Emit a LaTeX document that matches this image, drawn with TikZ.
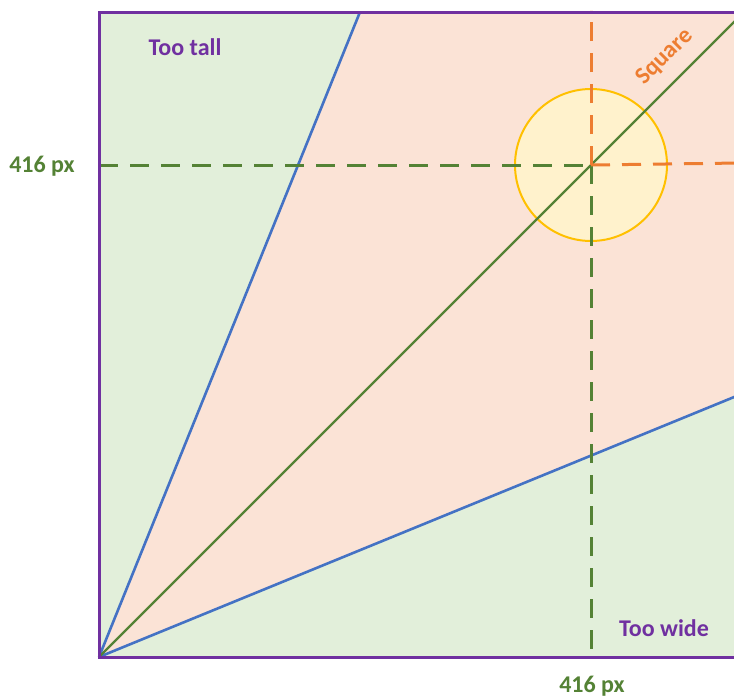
\documentclass[tikz,border=0pt]{standalone}
\usepackage{fontspec}
\setmainfont{Carlito}
\definecolor{frm}{HTML}{7030A0}
\definecolor{gfill}{HTML}{E2EFDA}
\definecolor{pfill}{HTML}{FBE3D6}
\definecolor{bl}{HTML}{4472C4}
\definecolor{gr}{HTML}{548235}
\definecolor{orn}{HTML}{ED7D31}
\definecolor{ylw}{HTML}{FFC000}
\definecolor{yfill}{HTML}{FFF2CC}
\tikzset{
  lbl/.style={font=\fontsize{24}{24}\selectfont\bfseries, inner sep=0pt},
  dsh/.style={line width=3pt, dash pattern=on 19pt off 12pt},
  blueline/.style={bl, line width=2.6pt},
}
\begin{document}
\begin{tikzpicture}[x=1pt,y=-1pt]
\useasboundingbox (0,0) rectangle (734,699);
\begin{scope}
\clip (0,0) rectangle (734,699);
\coordinate (O) at (99,657);
\coordinate (TL) at (99,12);
\coordinate (TR) at (740,12);
\coordinate (BR) at (740,657);
\coordinate (U) at (360,12);
\coordinate (L) at (740,394.6);
\coordinate (D) at (740,16);
\coordinate (C) at (591,165);
\coordinate (Htop) at (591,10);
\coordinate (Hleft) at (99,165);
\coordinate (Hright) at (740,163);
\coordinate (Hbot) at (591,657);
\fill[gfill] (TL) rectangle (BR);
\fill[pfill] (O) -- (U) -- (TR) -- (L) -- cycle;
\node[circle, draw=ylw, fill=yfill, line width=2pt, minimum size=152pt, inner sep=0pt] (circ) at (C) {};
\draw[blueline] (O) -- (U);
\draw[blueline] (O) -- (L);
\draw[gr, line width=2.2pt] (O) -- (D);
\draw[dsh, gr] (Hleft) -- (C);
\draw[dsh, gr] (C) -- (Hbot);
\draw[dsh, orn] (C) -- (Hright);
\draw[dsh, orn] (C) -- (Htop);
\draw[frm, line width=3pt] (TR) -- (TL) -- (O) -- (BR);
\end{scope}
\node[lbl, text=frm] (tall) at (185,47) {Too tall};
\node[lbl, text=frm] (wide) at (664,628) {Too wide};
\node[lbl, text=gr] (pxl) at (42,166) {416 px};
\node[lbl, text=gr] (pxb) at (592,686) {416 px};
\node[lbl, text=orn, rotate=45] (sq) at (665,57) {Square};
\end{tikzpicture}
\end{document}
